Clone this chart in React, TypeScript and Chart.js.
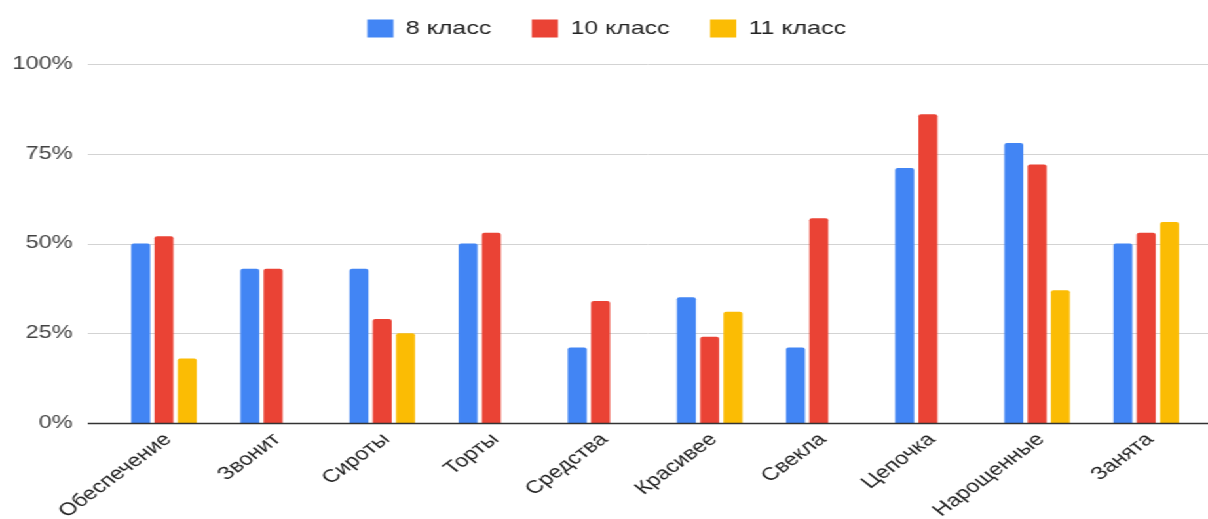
import React, { useEffect, useRef } from 'react';
import { Chart, registerables } from 'chart.js';

Chart.register(...registerables);

const categories = ['Обеспечение', 'Звонит', 'Сироты', 'Торты', 'Средства', 'Красивее', 'Свекла', 'Цепочка', 'Нарощенные', 'Занята'];
const seriesNames = ['8 класс', '10 класс', '11 класс'];
const grade8 = [50, 43, 43, 50, 21, 35, 21, 71, 78, 50];
const grade10 = [52, 43, 29, 53, 34, 24, 57, 86, 72, 53];
const grade11 = [18, null, 25, null, null, 31, null, null, 37, 56];
const yTickValues = [0, 25, 50, 75, 100];

const colors = ['#4285F4', '#EA4335', '#FBBC04'];
const FONT = '"Liberation Sans", Arial, sans-serif';

const BASE_W = 922;
const BASE_H = 519;
const STRETCH = 1208 / BASE_W;

const gridPlugin = {
  id: 'gGrid',
  beforeDatasetsDraw(chart: any) {
    const y = chart.scales.y;
    const ctx = chart.ctx;
    const left = chart.chartArea.left - 16.5;
    ctx.save();
    ctx.strokeStyle = '#d3d3d3';
    ctx.lineWidth = 1;
    y.ticks.forEach((t: any) => {
      if (t.value === 0) return;
      const py = Math.round(y.getPixelForValue(t.value)) + 0.5;
      ctx.beginPath();
      ctx.moveTo(left, py);
      ctx.lineTo(chart.width, py);
      ctx.stroke();
    });
    ctx.restore();
  },
  afterDatasetsDraw(chart: any) {
    const y = chart.scales.y;
    const ctx = chart.ctx;
    const left = chart.chartArea.left - 16.5;
    const py = Math.round(y.getPixelForValue(0)) + 0.5;
    ctx.save();
    ctx.strokeStyle = '#333333';
    ctx.lineWidth = 1.5;
    ctx.beginPath();
    ctx.moveTo(left, py);
    ctx.lineTo(chart.width, py);
    ctx.stroke();
    ctx.restore();
  },
};

const legendSpacer = {
  id: 'legendSpacer',
  afterInit(chart: any) {
    const lg = chart.legend;
    if (lg && !lg.__patched) {
      const f = lg.fit;
      lg.fit = function () {
        f.call(this);
        this.height += 16;
      };
      lg.__patched = true;
    }
  },
};

export default function App() {
  const ref = useRef<HTMLCanvasElement | null>(null);

  useEffect(() => {
    if (!ref.current) return;
    const data = [grade8, grade10, grade11];
    const chart = new Chart(ref.current, {
      type: 'bar',
      data: {
        labels: categories,
        datasets: seriesNames.map((name, i) => ({
          label: name,
          data: data[i] as any,
          backgroundColor: colors[i],
          borderColor: colors[i],
          borderWidth: 0,
          borderRadius: { topLeft: 2, topRight: 2, bottomLeft: 0, bottomRight: 0 },
          borderSkipped: 'bottom',
          barPercentage: 0.815,
          categoryPercentage: 0.64,
        })),
      },
      plugins: [gridPlugin, legendSpacer],
      options: {
        animation: false,
        responsive: true,
        maintainAspectRatio: false,
        layout: { padding: { left: 9.5, right: 5.5, top: -12, bottom: 0 } },
        plugins: {
          legend: {
            position: 'top',
            labels: {
              boxWidth: 20,
              boxHeight: 18,
              padding: 31,
              color: '#222222',
              font: { family: FONT, size: 19 },
            },
          },
          tooltip: { enabled: false },
        },
        scales: {
          x: {
            grid: { display: false, drawTicks: false },
            border: { display: false },
            ticks: {
              autoSkip: false,
              minRotation: 44,
              maxRotation: 44,
              padding: 6,
              labelOffset: 3,
              color: '#222222',
              font: { family: FONT, size: 18 },
            },
            afterFit: (s: any) => {
              s.height = 96;
            },
          },
          y: {
            min: 0,
            max: 100,
            grid: { display: false, drawTicks: false },
            border: { display: false },
            afterBuildTicks: (s: any) => {
              s.ticks = yTickValues.map((v) => ({ value: v }));
            },
            ticks: {
              padding: 28,
              color: '#444444',
              font: { family: FONT, size: 18 },
              callback: (v: any) => `${v}%`,
            },
            afterFit: (s: any) => {
              s.width = 74;
            },
          },
        },
      },
    });
    return () => chart.destroy();
  }, []);

  return (
    <div
      style={{
        position: 'absolute',
        left: 0,
        top: 0,
        width: BASE_W,
        height: BASE_H,
        transform: `scaleX(${STRETCH})`,
        transformOrigin: '0 0',
        background: '#ffffff',
      }}
    >
      <canvas ref={ref} />
    </div>
  );
}
